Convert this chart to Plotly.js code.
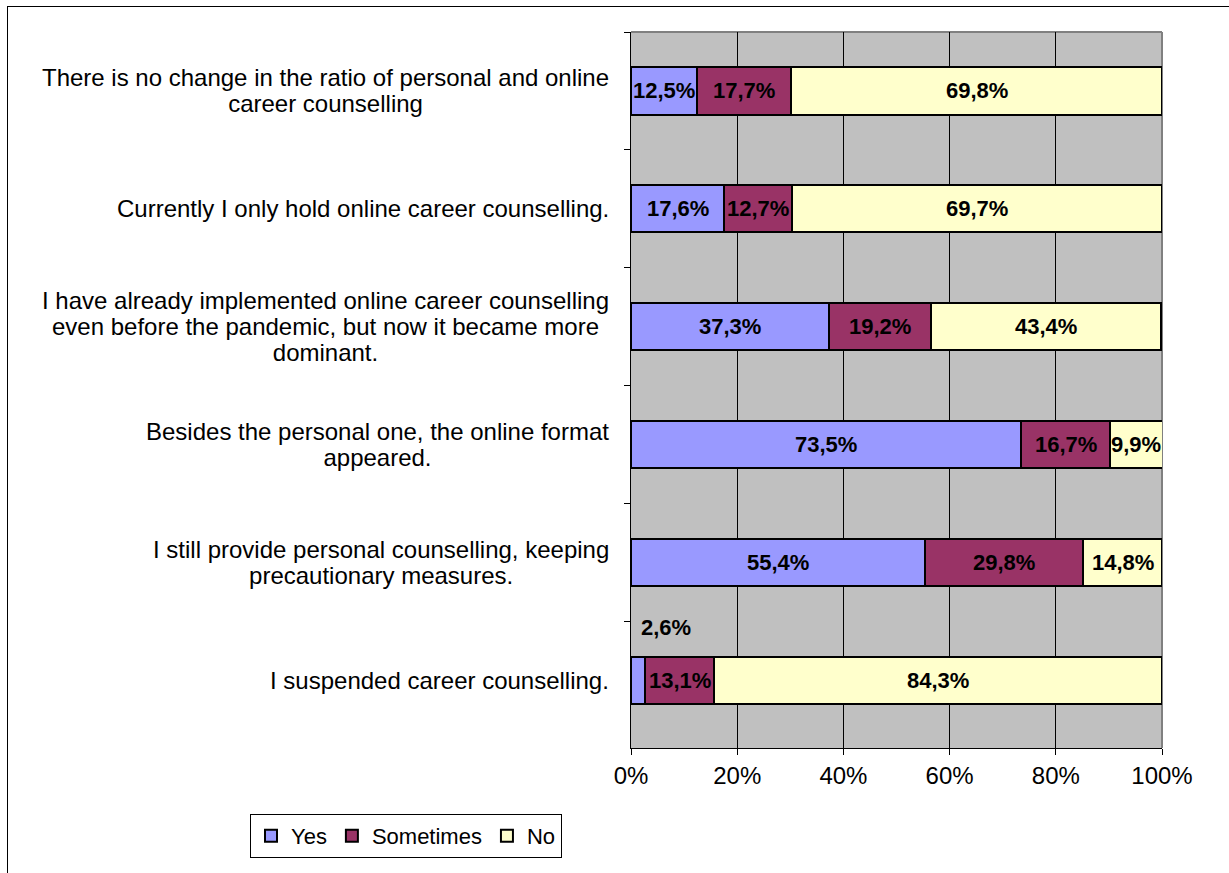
<!DOCTYPE html>
<html>
<head>
<meta charset="utf-8">
<script src="https://cdn.plot.ly/plotly-3.0.1.min.js"></script>
<style>
html,body{margin:0;padding:0;overflow:hidden;background:#fff;}
#chart{position:absolute;left:0;top:0;width:1229px;height:873px;}
#frame{position:absolute;left:7px;top:6px;width:1300px;height:1000px;border-top:1px solid #000;border-left:1px solid #000;pointer-events:none;z-index:10;}
</style>
</head>
<body>
<div id="chart"></div>
<div id="frame"></div>
<script>
// Categories, top to bottom
const categories = [
  "There is no change in the ratio of personal and online<br>career counselling",
  "Currently I only hold online career counselling.",
  "I have already implemented online career counselling<br>even before the pandemic, but now it became more<br>dominant.",
  "Besides the personal one, the online format<br>appeared.",
  "I still provide personal counselling, keeping<br>precautionary measures.",
  "I suspended career counselling."
];
const seriesNames = ["Yes", "Sometimes", "No"];
const yesValues = [12.5, 17.6, 37.3, 73.5, 55.4, 2.6];
const sometimesValues = [17.7, 12.7, 19.2, 16.7, 29.8, 13.1];
const noValues = [69.8, 69.7, 43.4, 9.9, 14.8, 84.3];
const tickValues = [0, 20, 40, 60, 80, 100];

const colors = ["#9999FF", "#993366", "#FFFFCC"];
const FONT = "Liberation Sans, Arial, sans-serif";

function fmt(v){ return v.toFixed(1).replace('.', ',') + '%'; }

const allVals = [yesValues, sometimesValues, noValues];
const traces = allVals.map((vals, i) => ({
  type: 'bar',
  orientation: 'h',
  name: seriesNames[i],
  y: categories,
  x: vals,
  hoverinfo: 'skip',
  marker: {color: colors[i], line: {color: '#000', width: 2}}
}));

// category labels (centred lines, right-aligned block)
const annotations = categories.map(c => ({
  xref: 'paper', yref: 'y', x: 0, y: c,
  xanchor: 'right', yanchor: 'middle', xshift: -20,
  align: 'center', showarrow: false,
  text: c.split('<br>').map(s => '<span style="font-size:24px">' + s + '</span>').join('<br>'),
  font: {family: FONT, size: 20, color: '#000'}
}));
// data labels at the middle of each stacked segment
const labelFont = {family: FONT, size: 22, color: '#000', weight: 'bold'};
categories.forEach((c, j) => {
  let start = 0;
  allVals.forEach(vals => {
    const v = vals[j];
    if (v < 5) {
      // too small: label sits above the bar
      annotations.push({xref: 'x', yref: 'y', x: start, y: c, xanchor: 'left', yanchor: 'middle',
        xshift: 8, yshift: 53, showarrow: false, text: fmt(v), font: labelFont});
    } else {
      annotations.push({xref: 'x', yref: 'y', x: start + v / 2, y: c, xanchor: 'center', yanchor: 'middle',
        showarrow: false, text: fmt(v), font: labelFont, borderpad: 0});
    }
    start += v;
  });
});

const layout = {
  width: 1229, height: 873,
  margin: {l: 631, r: 67, t: 32, b: 125, pad: 0},
  paper_bgcolor: '#fff',
  plot_bgcolor: '#C0C0C0',
  barmode: 'stack',
  bargap: 0.6,
  font: {family: FONT, size: 24, color: '#000'},
  xaxis: {
    range: [0, 100], tickvals: tickValues, ticktext: tickValues.map(v => v + '%'),
    ticks: 'outside', ticklen: 6, tickcolor: '#000', tickwidth: 1,
    showline: true, linecolor: '#000', linewidth: 1,
    showgrid: true, gridcolor: '#000', gridwidth: 1, zeroline: false,
    tickfont: {family: FONT, size: 24, color: '#000'}, fixedrange: true
  },
  yaxis: {
    type: 'category', autorange: 'reversed',
    showticklabels: false, ticks: 'outside', tickson: 'boundaries', ticklen: 6,
    tickcolor: '#000', showline: true, linecolor: '#000', linewidth: 1,
    showgrid: false, zeroline: false, fixedrange: true
  },
  shapes: [
    {type: 'line', xref: 'paper', yref: 'paper', x0: 0, x1: 1, y0: 1, y1: 1, line: {color: '#808080', width: 2}, layer: 'between'},
    {type: 'line', xref: 'paper', yref: 'paper', x0: 1, x1: 1, y0: 0, y1: 1, line: {color: '#808080', width: 2}, layer: 'between'}
  ],
  annotations: annotations,
  showlegend: true,
  legend: {
    orientation: 'h', traceorder: 'normal',
    x: -0.7175, y: -0.092, xanchor: 'left', yanchor: 'top',
    bordercolor: '#000', borderwidth: 1, bgcolor: '#fff',
    font: {family: FONT, size: 22, color: '#000'}
  }
};

Plotly.newPlot('chart', traces, layout, {displayModeBar: false, staticPlot: true});
</script>
</body>
</html>
